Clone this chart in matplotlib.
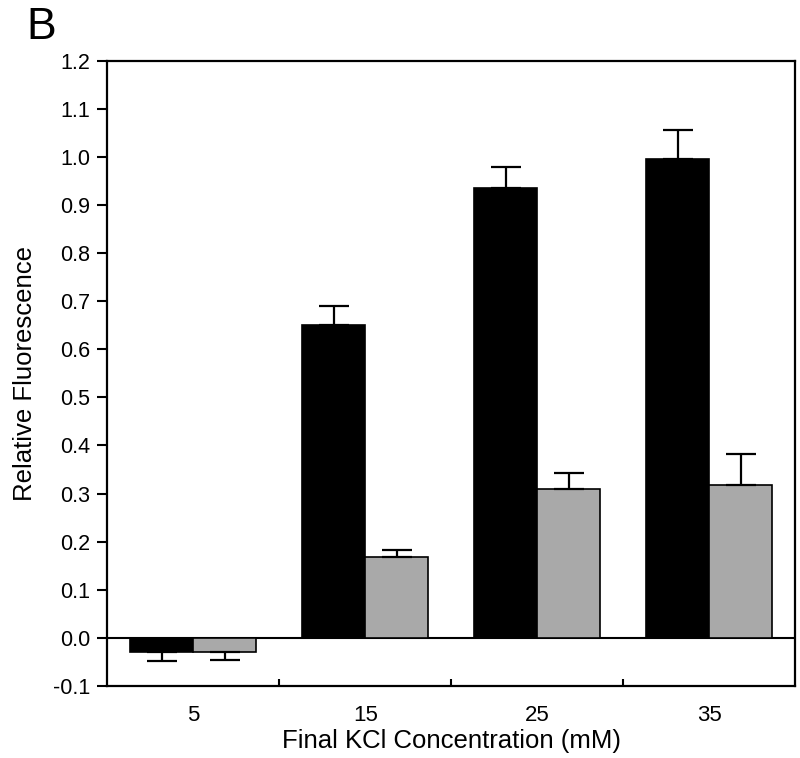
import numpy as np
import matplotlib
matplotlib.use('Agg')
import matplotlib.pyplot as plt

plt.rcParams['font.family'] = ['Liberation Sans', 'DejaVu Sans']

kcl = ['5', '15', '25', '35']
black_vals = [-0.030, 0.650, 0.935, 0.995]
black_err = [0.018, 0.040, 0.043, 0.060]
gray_vals = [-0.030, 0.168, 0.310, 0.318]
gray_err = [0.015, 0.015, 0.033, 0.065]


def one_sided(vals, errs):
    # error bar only goes away from zero
    lo = [e if v < 0 else 0 for v, e in zip(vals, errs)]
    hi = [e if v >= 0 else 0 for v, e in zip(vals, errs)]
    return [lo, hi]


fig = plt.figure(figsize=(8, 7.58), dpi=100)
ax = fig.add_axes([0.134, 0.095, 0.86, 0.825])

x = np.arange(len(kcl))
w = 0.366
ax.bar(x - w / 2, black_vals, w, color='black', edgecolor='black', linewidth=1.2,
       yerr=one_sided(black_vals, black_err),
       error_kw=dict(ecolor='black', elinewidth=1.6, capsize=11, capthick=1.6))
ax.bar(x + w / 2, gray_vals, w, color='#a9a9a9', edgecolor='black', linewidth=1.2,
       yerr=one_sided(gray_vals, gray_err),
       error_kw=dict(ecolor='black', elinewidth=1.6, capsize=11, capthick=1.6))

ax.axhline(0, color='black', linewidth=1.5, zorder=0.5)

ax.set_xlim(-0.5, 3.5)
ax.set_ylim(-0.1, 1.2)
ax.set_yticks(np.arange(-0.1, 1.21, 0.1))
ax.set_yticklabels(['%.1f' % v for v in np.arange(-0.1, 1.21, 0.1)])
ax.set_xticks(x)
ax.set_xticklabels(kcl)
ax.set_xticks([0.5, 1.5, 2.5], minor=True)
ax.tick_params(axis='x', which='major', length=0, pad=14, labelsize=16)
ax.tick_params(axis='x', which='minor', direction='in', length=5, width=1.5)
ax.tick_params(axis='y', direction='out', length=7, width=1.5, labelsize=15.5, pad=5)

for s in ax.spines.values():
    s.set_linewidth(1.6)

ax.set_xlabel('Final KCl Concentration (mM)', fontsize=18.5, labelpad=2)
ax.set_ylabel('Relative Fluorescence', fontsize=18.5, labelpad=12)

fig.text(0.033, 0.948, 'B', fontsize=32)

fig.savefig('out.png', dpi=100)
